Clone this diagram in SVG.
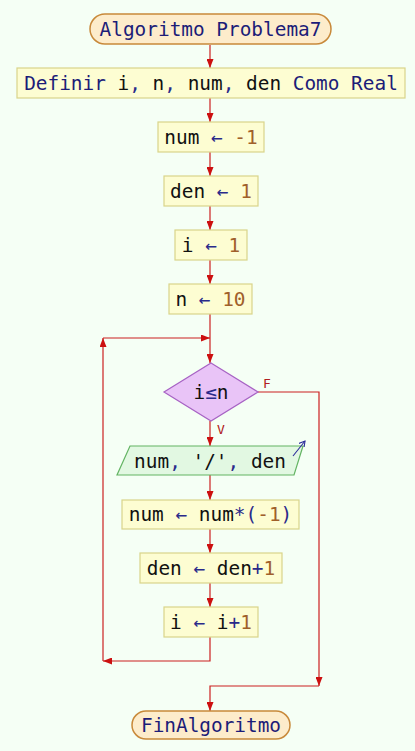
<svg xmlns="http://www.w3.org/2000/svg" width="415" height="751" viewBox="0 0 415 751">
<defs>
<style>
.bg{fill:#f5fff5}
.term{fill:#fdeccb;stroke:#c8893a;stroke-width:1.5}
.proc{fill:#fdfdd2;stroke:#d9d48a;stroke-width:1.2}
.dec{fill:#e9c4f7;stroke:#a763c4;stroke-width:1.2}
.io{fill:#e2f8e2;stroke:#63b463;stroke-width:1.2}
.ln{fill:none;stroke:#cc2020;stroke-width:1.2}
text{font-family:"DejaVu Sans Mono","Liberation Mono",monospace;font-size:19.4px;fill:#111}
.kw{fill:#1c1c78}
.op{fill:#2a2a8a}
.nu{fill:#a0602a}
.lbl{font-size:13px;fill:#b02020}
</style>
<marker id="ah" markerWidth="9" markerHeight="7" refX="9" refY="3.5" orient="auto" markerUnits="userSpaceOnUse">
<path d="M0,0 L9,3.5 L0,7 z" fill="#cc1010"/>
</marker>
<marker id="ab" markerWidth="7" markerHeight="7" refX="6" refY="3.5" orient="auto" markerUnits="userSpaceOnUse">
<path d="M0,0 L6,3.5 L0,7" fill="none" stroke="#2a2a9a" stroke-width="1.1"/>
</marker>
</defs>
<rect class="bg" x="0" y="0" width="415" height="751"/>
<g id="connectors">
<path class="ln" d="M210,45 V68" marker-end="url(#ah)"/>
<path class="ln" d="M210,98 V122" marker-end="url(#ah)"/>
<path class="ln" d="M210,152 V176" marker-end="url(#ah)"/>
<path class="ln" d="M210,206 V230" marker-end="url(#ah)"/>
<path class="ln" d="M210,260 V284" marker-end="url(#ah)"/>
<path class="ln" d="M210,314 V363" marker-end="url(#ah)"/>
<path class="ln" d="M210,421 V446" marker-end="url(#ah)"/>
<path class="ln" d="M210,475 V500" marker-end="url(#ah)"/>
<path class="ln" d="M210,529 V553" marker-end="url(#ah)"/>
<path class="ln" d="M210,583 V607" marker-end="url(#ah)"/>
<path class="ln" d="M210,637 V661 H103" marker-end="url(#ah)"/>
<path class="ln" d="M103,661 V338" marker-end="url(#ah)"/>
<path class="ln" d="M103,338 H210" marker-end="url(#ah)"/>
<path class="ln" d="M258,392 H319 V686" marker-end="url(#ah)"/>
<path class="ln" d="M319,686 H210 V711" marker-end="url(#ah)"/>
<text class="lbl" x="263" y="388">F</text>
<text class="lbl" x="217" y="434">V</text>
</g>
<g id="start">
<rect class="term" x="90" y="14" width="241" height="30" rx="15" ry="15"/>
<text class="kw" x="210.5" y="36" text-anchor="middle">Algoritmo Problema7</text>
</g>
<g id="define">
<rect class="proc" x="17" y="68" width="388" height="30"/>
<text x="211" y="90" text-anchor="middle" xml:space="preserve"><tspan class="kw">Definir</tspan> i<tspan class="op">,</tspan> n<tspan class="op">,</tspan> num<tspan class="op">,</tspan> den <tspan class="kw">Como Real</tspan></text>
</g>
<g id="num1">
<rect class="proc" x="158" y="122" width="106" height="30"/>
<text x="211" y="144" text-anchor="middle" xml:space="preserve">num <tspan class="op">←</tspan> <tspan class="nu">-1</tspan></text>
</g>
<g id="den1">
<rect class="proc" x="164" y="176" width="94" height="30"/>
<text x="211" y="198" text-anchor="middle" xml:space="preserve">den <tspan class="op">←</tspan> <tspan class="nu">1</tspan></text>
</g>
<g id="i1">
<rect class="proc" x="175" y="230" width="72" height="30"/>
<text x="211" y="252" text-anchor="middle" xml:space="preserve">i <tspan class="op">←</tspan> <tspan class="nu">1</tspan></text>
</g>
<g id="n10">
<rect class="proc" x="169" y="284" width="83" height="30"/>
<text x="210.5" y="306" text-anchor="middle" xml:space="preserve">n <tspan class="op">←</tspan> <tspan class="nu">10</tspan></text>
</g>
<g id="cond">
<polygon class="dec" points="211,363 258,392 211,421 164,392"/>
<text x="211" y="399" text-anchor="middle" xml:space="preserve">i<tspan class="op">≤</tspan>n</text>
</g>
<g id="out">
<polygon class="io" points="130,446 303,446 294,475 117,475"/>
<text x="210" y="468" text-anchor="middle" xml:space="preserve">num<tspan class="op">,</tspan> '/'<tspan class="op">,</tspan> den</text>
<path d="M293,456 L305,441" fill="none" stroke="#2a2a9a" stroke-width="1.1" marker-end="url(#ab)"/>
</g>
<g id="numneg">
<rect class="proc" x="122" y="500" width="177" height="29"/>
<text x="210.5" y="521" text-anchor="middle" xml:space="preserve">num <tspan class="op">←</tspan> num<tspan class="op">*(</tspan><tspan class="nu">-1</tspan><tspan class="op">)</tspan></text>
</g>
<g id="deninc">
<rect class="proc" x="140" y="553" width="142" height="30"/>
<text x="211" y="575" text-anchor="middle" xml:space="preserve">den <tspan class="op">←</tspan> den<tspan class="op">+</tspan><tspan class="nu">1</tspan></text>
</g>
<g id="iinc">
<rect class="proc" x="164" y="607" width="94" height="30"/>
<text x="211" y="629" text-anchor="middle" xml:space="preserve">i <tspan class="op">←</tspan> i<tspan class="op">+</tspan><tspan class="nu">1</tspan></text>
</g>
<g id="end">
<rect class="term" x="132" y="711" width="158" height="28" rx="14" ry="14"/>
<text class="kw" x="211" y="732" text-anchor="middle">FinAlgoritmo</text>
</g>
</svg>
